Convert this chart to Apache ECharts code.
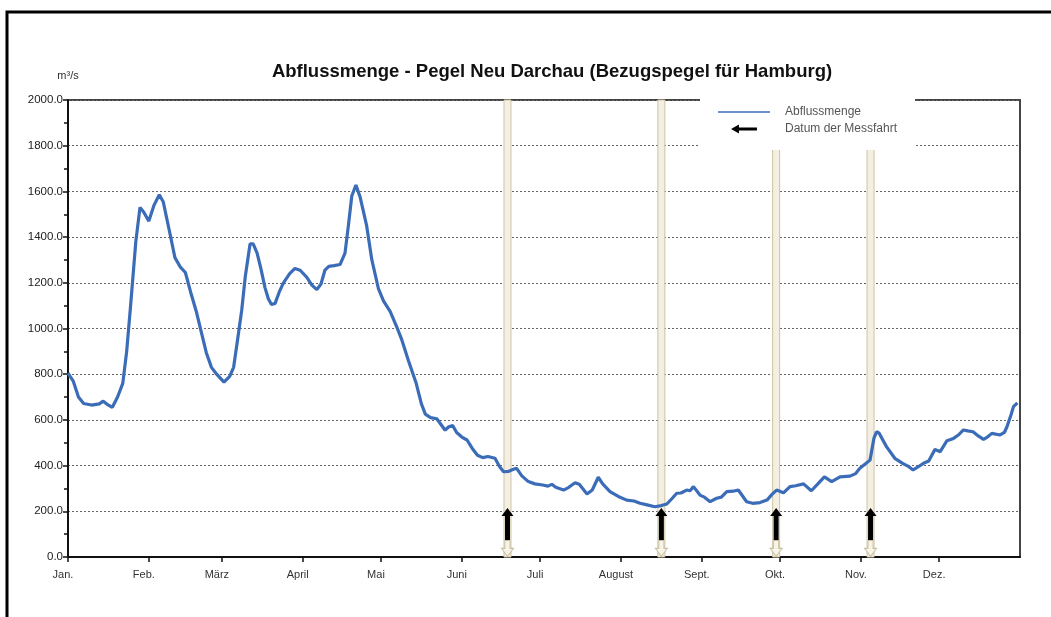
<!DOCTYPE html>
<html>
<head>
<meta charset="utf-8">
<script src="https://cdn.jsdelivr.net/npm/echarts@6/dist/echarts.min.js"></script>
<style>html,body{margin:0;padding:0;background:#fff;}#c{width:1051px;height:617px;}</style>
</head>
<body>
<div id="c"></div>
<script>
// Month labels and their start day (day of year)
var monthLabels = ['Jan.', 'Feb.', 'März', 'April', 'Mai', 'Juni', 'Juli', 'August', 'Sept.', 'Okt.', 'Nov.', 'Dez.'];
var monthStarts = [0, 31, 59, 90, 120, 151, 181, 212, 243, 273, 304, 334];
var yTicks = [0, 200, 400, 600, 800, 1000, 1200, 1400, 1600, 1800, 2000];

// Abflussmenge (m³/s), [day of year, value]
var flowDays = [0, 2, 4, 6, 9, 12, 13.5, 15, 17, 19, 21, 22.5, 24, 26, 27.6, 29, 31, 33, 35, 36.5, 39, 41, 43, 45, 47, 49.3, 51, 53, 55, 57, 59.8, 62, 63.5, 65, 66.6, 68, 69.8, 71, 72.5, 74, 75.5, 76.8, 78, 79.4, 81, 82.6, 85, 87, 89, 91.5, 93.5, 95.4, 97, 98.5, 100, 102, 104.3, 106.2, 107.5, 108.8, 110.4, 112, 114.5, 116.5, 119, 121, 123.5, 126, 128, 130.5, 133.5, 135.5, 137, 139, 141.4, 143, 144.6, 146, 147.5, 149, 151, 153, 155, 157, 159, 161, 163.7, 165.5, 167, 169, 171, 172, 174, 176.5, 179, 182, 184, 185.5, 187, 190, 192, 194.4, 196, 199, 201, 203.3, 205, 207.8, 211, 214.2, 217, 219.3, 222, 225, 227.5, 229.6, 231.5, 233.4, 235, 237.2, 238.5, 239.8, 242.3, 244, 246.2, 248.7, 250.5, 252.6, 255, 257, 260.2, 262.5, 265.3, 268, 270, 271.7, 274.3, 276.8, 279, 282, 285, 287.5, 290, 292.8, 296, 299.8, 302, 303.6, 306, 307.5, 309, 310, 311, 313.8, 317, 320, 322, 324, 326, 328, 330, 332.4, 334.4, 337, 339.5, 341.5, 343.3, 345, 347, 349, 351, 352.5, 354.2, 357.4, 359, 360, 361.5, 362.5, 364];
var flowValues = [805, 770, 700, 672, 665, 670, 682, 668, 655, 700, 760, 900, 1100, 1380, 1530, 1510, 1470, 1540, 1585, 1555, 1420, 1310, 1270, 1245, 1160, 1070, 990, 895, 830, 800, 765, 790, 830, 950, 1080, 1230, 1370, 1370, 1330, 1260, 1180, 1130, 1105, 1110, 1160, 1200, 1240, 1263, 1255, 1225, 1190, 1170, 1195, 1255, 1272, 1275, 1280, 1330, 1450, 1580, 1628, 1575, 1450, 1300, 1175, 1120, 1075, 1008, 950, 860, 760, 670, 625, 610, 605, 580, 555, 570, 575, 545, 525, 512, 475, 445, 435, 440, 432, 395, 373, 375, 385, 388, 355, 330, 320, 315, 310, 318, 305, 293, 305, 325, 318, 276, 293, 349, 320, 286, 265, 249, 245, 235, 228, 220, 225, 232, 255, 279, 280, 293, 290, 308, 271, 262, 242, 257, 262, 286, 288, 293, 242, 235, 238, 249, 275, 293, 281, 308, 312, 320, 290, 320, 351, 330, 351, 354, 365, 388, 410, 424, 520, 548, 542, 483, 432, 410, 398, 381, 395, 410, 420, 471, 461, 509, 519, 535, 556, 552, 548, 530, 515, 525, 541, 534, 545, 570, 620, 658, 675];

// Datum der Messfahrt (day of year)
var tripDays = [168.5, 227.5, 271.5, 307.7];

var FONT = 'Arial, "Liberation Sans", sans-serif';
var ARROW_UP_Y = 144;   // level of the black arrow centre (axis units)
var ARROW_DOWN_Y = 38;  // level of the hollow arrow centre (axis units)

var flowData = flowDays.map(function (d, i) { return [d, flowValues[i]]; });

var chart = echarts.init(document.getElementById('c'));
chart.setOption({
  animation: false,
  backgroundColor: '#fff',
  textStyle: { fontFamily: FONT },
  title: {
    text: 'Abflussmenge - Pegel Neu Darchau (Bezugspegel für Hamburg)',
    left: 547, top: 57, textAlign: 'center',
    textStyle: { fontFamily: FONT, fontSize: 18.5, fontWeight: 'bold', color: '#111' }
  },
  legend: {
    orient: 'vertical', left: 718, top: 104.5, z: 30, padding: 0,
    itemWidth: 52, itemHeight: 9, itemGap: 2,
    textStyle: { fontFamily: FONT, fontSize: 12, color: '#555', padding: [0, 0, 0, 10], lineHeight: 15 },
    data: [
      { name: 'Abflussmenge', icon: 'path://M0,0H52V1.6H0Z' },
      { name: 'Datum der Messfahrt', icon: 'path://M0,4L7,0L7,2.6L23,2.6L23,5.4L7,5.4L7,8Z', itemStyle: { color: '#000' } }
    ]
  },
  grid: {
    left: 68, right: 31, top: 100, bottom: 60,
    show: true, borderColor: '#444', borderWidth: 2, backgroundColor: 'transparent'
  },
  xAxis: {
    type: 'value', min: 0, max: 365,
    axisLine: { show: true, onZero: false, lineStyle: { color: '#111', width: 2 } },
    axisTick: { show: true, customValues: monthStarts, length: 5, lineStyle: { color: '#111', width: 1.5 } },
    axisLabel: {
      show: true, customValues: monthStarts, margin: 12, fontSize: 11, color: '#333', fontFamily: FONT,
      padding: [0, 10, 0, 0],
      formatter: function (v) { var i = monthStarts.indexOf(Math.round(v)); return i >= 0 ? monthLabels[i] : ''; }
    },
    splitLine: { show: false }
  },
  yAxis: {
    type: 'value', min: yTicks[0], max: yTicks[yTicks.length - 1], interval: 200,
    name: 'm³/s', nameLocation: 'end', nameGap: 19,
    nameTextStyle: { fontFamily: FONT, fontSize: 11, color: '#333', align: 'center' },
    axisLine: { show: true, lineStyle: { color: '#111', width: 2 } },
    axisTick: { show: true, length: 5, lineStyle: { color: '#111', width: 1.5 } },
    minorTick: { show: true, splitNumber: 2, length: 4, lineStyle: { color: '#111', width: 1.5 } },
    axisLabel: { fontSize: 11.5, color: '#222', margin: 5, fontFamily: FONT,
      formatter: function (v) { return v.toFixed(1); } },
    splitLine: { show: true, lineStyle: { color: '#666', width: 1, type: [2, 2] } }
  },
  graphic: [
    { type: 'rect', z: 10, shape: { x: 700, y: 94, width: 215, height: 56 }, style: { fill: '#fff' } },
    { type: 'rect', z: 40, shape: { x: 7, y: 12, width: 1100, height: 700 }, style: { fill: 'none', stroke: '#000', lineWidth: 3 } }
  ],
  series: [
    {
      name: 'bands', type: 'custom', silent: true, z: 1,
      data: tripDays.map(function (d) { return [d]; }),
      renderItem: function (params, api) {
        var top = api.coord([api.value(0), yTicks[yTicks.length - 1]]);
        var bot = api.coord([api.value(0), 0]);
        return {
          type: 'rect',
          shape: { x: top[0] - 3.5, y: top[1], width: 7, height: bot[1] - top[1] },
          style: { fill: '#f3efe3', stroke: '#cfc3a3', lineWidth: 1 }
        };
      }
    },
    {
      name: 'Abflussmenge', type: 'line', z: 5,
      data: flowData, showSymbol: false, symbol: 'none',
      lineStyle: { color: '#3b6cb8', width: 3.2 }, itemStyle: { color: '#3b6cb8' }
    },
    {
      name: 'Datum der Messfahrt', type: 'scatter', z: 6,
      data: tripDays.map(function (d) { return [d, ARROW_UP_Y]; }),
      symbol: 'path://M6,0L12,8L8.5,8L8.5,32L3.5,32L3.5,8L0,8Z',
      symbolSize: [12, 32], symbolKeepAspect: false,
      itemStyle: { color: '#000', opacity: 1 }
    },
    {
      name: 'down', type: 'scatter', z: 4, silent: true,
      data: tripDays.map(function (d) { return [d, ARROW_DOWN_Y]; }),
      symbol: 'path://M3.5,0L8.5,0L8.5,8L12,8L6,16L0,8L3.5,8Z',
      symbolSize: [12, 16], symbolKeepAspect: false,
      itemStyle: { color: '#f7f4ea', borderColor: '#cbbf9f', borderWidth: 1, opacity: 1 }
    }
  ]
});
</script>
</body>
</html>
